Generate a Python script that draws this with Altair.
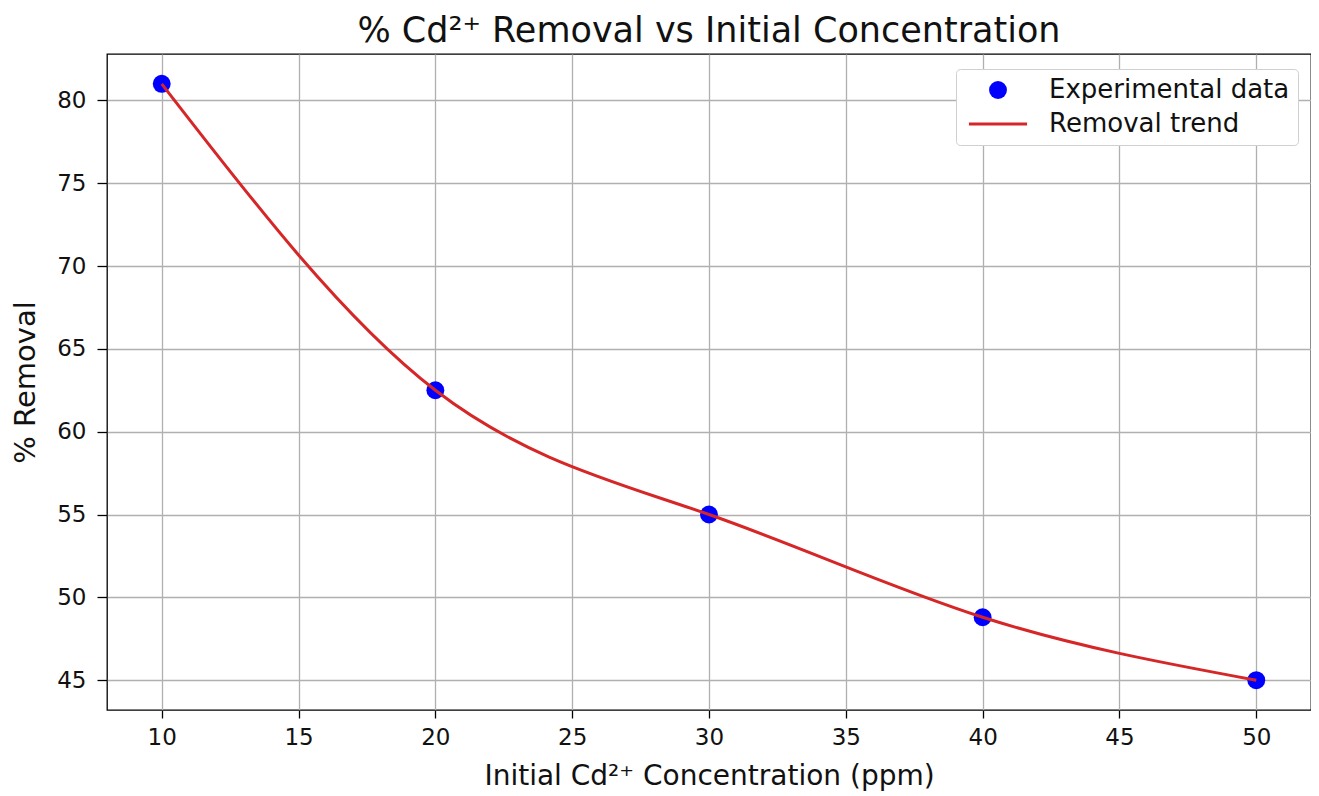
import altair as alt
import pandas as pd

conc = [10, 20, 30, 40, 50]
removal = [81.0, 62.5, 55.0, 48.8, 45.0]
series_names = ["Experimental data", "Removal trend"]
x_ticks = [10, 15, 20, 25, 30, 35, 40, 45, 50]
y_ticks = [45, 50, 55, 60, 65, 70, 75, 80]

pts = pd.DataFrame({"conc": conc, "removal": removal, "series": series_names[0]})
trend = pd.DataFrame({"conc": conc, "removal": removal, "series": series_names[1]})

FONT = "DejaVu Sans"

color_scale = alt.Scale(domain=series_names, range=["#0000ff", "#d62728"])
shape_scale = alt.Scale(
    domain=series_names,
    range=["circle", "M-3.25,-0.17L3.25,-0.17L3.25,0.17L-3.25,0.17Z"],
)


def make_legend():
    return alt.Legend(
        title=None,
        orient="none",
        legendX=849,
        legendY=15,
        padding=8,
        fillColor="white",
        strokeColor="#d0d0d0",
        cornerRadius=4,
        labelFont=FONT,
        labelFontSize=26,
        labelColor="#111111",
        labelLimit=400,
        labelOffset=38,
        symbolSize=320,
        symbolOffset=21,
        symbolOpacity=1,
        symbolStrokeWidth=0,
        rowPadding=8,
    )


x_enc = alt.X(
    "conc:Q",
    scale=alt.Scale(domain=[8, 52], nice=False, zero=False),
    axis=alt.Axis(values=x_ticks, title="Initial Cd²⁺ Concentration (ppm)", format="d"),
)
y_enc = alt.Y(
    "removal:Q",
    scale=alt.Scale(domain=[43.2, 82.8], nice=False, zero=False),
    axis=alt.Axis(values=y_ticks, title="% Removal", format="d"),
)

line = alt.Chart(trend).mark_line(interpolate="natural", strokeWidth=3).encode(
    x=x_enc,
    y=y_enc,
    color=alt.Color("series:N", scale=color_scale, legend=None),
)

points = alt.Chart(pts).mark_point(filled=True, size=320, opacity=1).encode(
    x=x_enc,
    y=y_enc,
    color=alt.Color("series:N", scale=color_scale, legend=make_legend()),
    shape=alt.Shape("series:N", scale=shape_scale, legend=make_legend()),
)

chart = (
    alt.layer(points, line)
    .properties(
        width=1204,
        height=656,
        autosize=alt.AutoSizeParams(type="none"),
        padding={"left": 99, "top": 46, "right": 0, "bottom": 82},
        title=alt.Title(
            "% Cd²⁺ Removal vs Initial Concentration",
            font=FONT,
            fontSize=35,
            fontWeight="normal",
            color="#111111",
            anchor="middle",
            offset=5,
        ),
    )
    .configure_view(stroke="black", strokeWidth=1.3)
    .configure_axis(
        grid=True,
        gridColor="#b0b0b0",
        gridWidth=1.3,
        domain=False,
        tickColor="black",
        tickWidth=1.3,
        labelFont=FONT,
        labelFontSize=23,
        labelColor="#111111",
        titleFont=FONT,
        titleFontSize=28,
        titleFontWeight="normal",
        titleColor="#111111",
    )
    .configure_axisX(tickSize=8, labelPadding=8, titlePadding=13)
    .configure_axisY(tickSize=10, labelPadding=11, titlePadding=16, titleFontSize=29)
)

chart.save("out.html", embed_options={"renderer": "svg", "actions": False})
